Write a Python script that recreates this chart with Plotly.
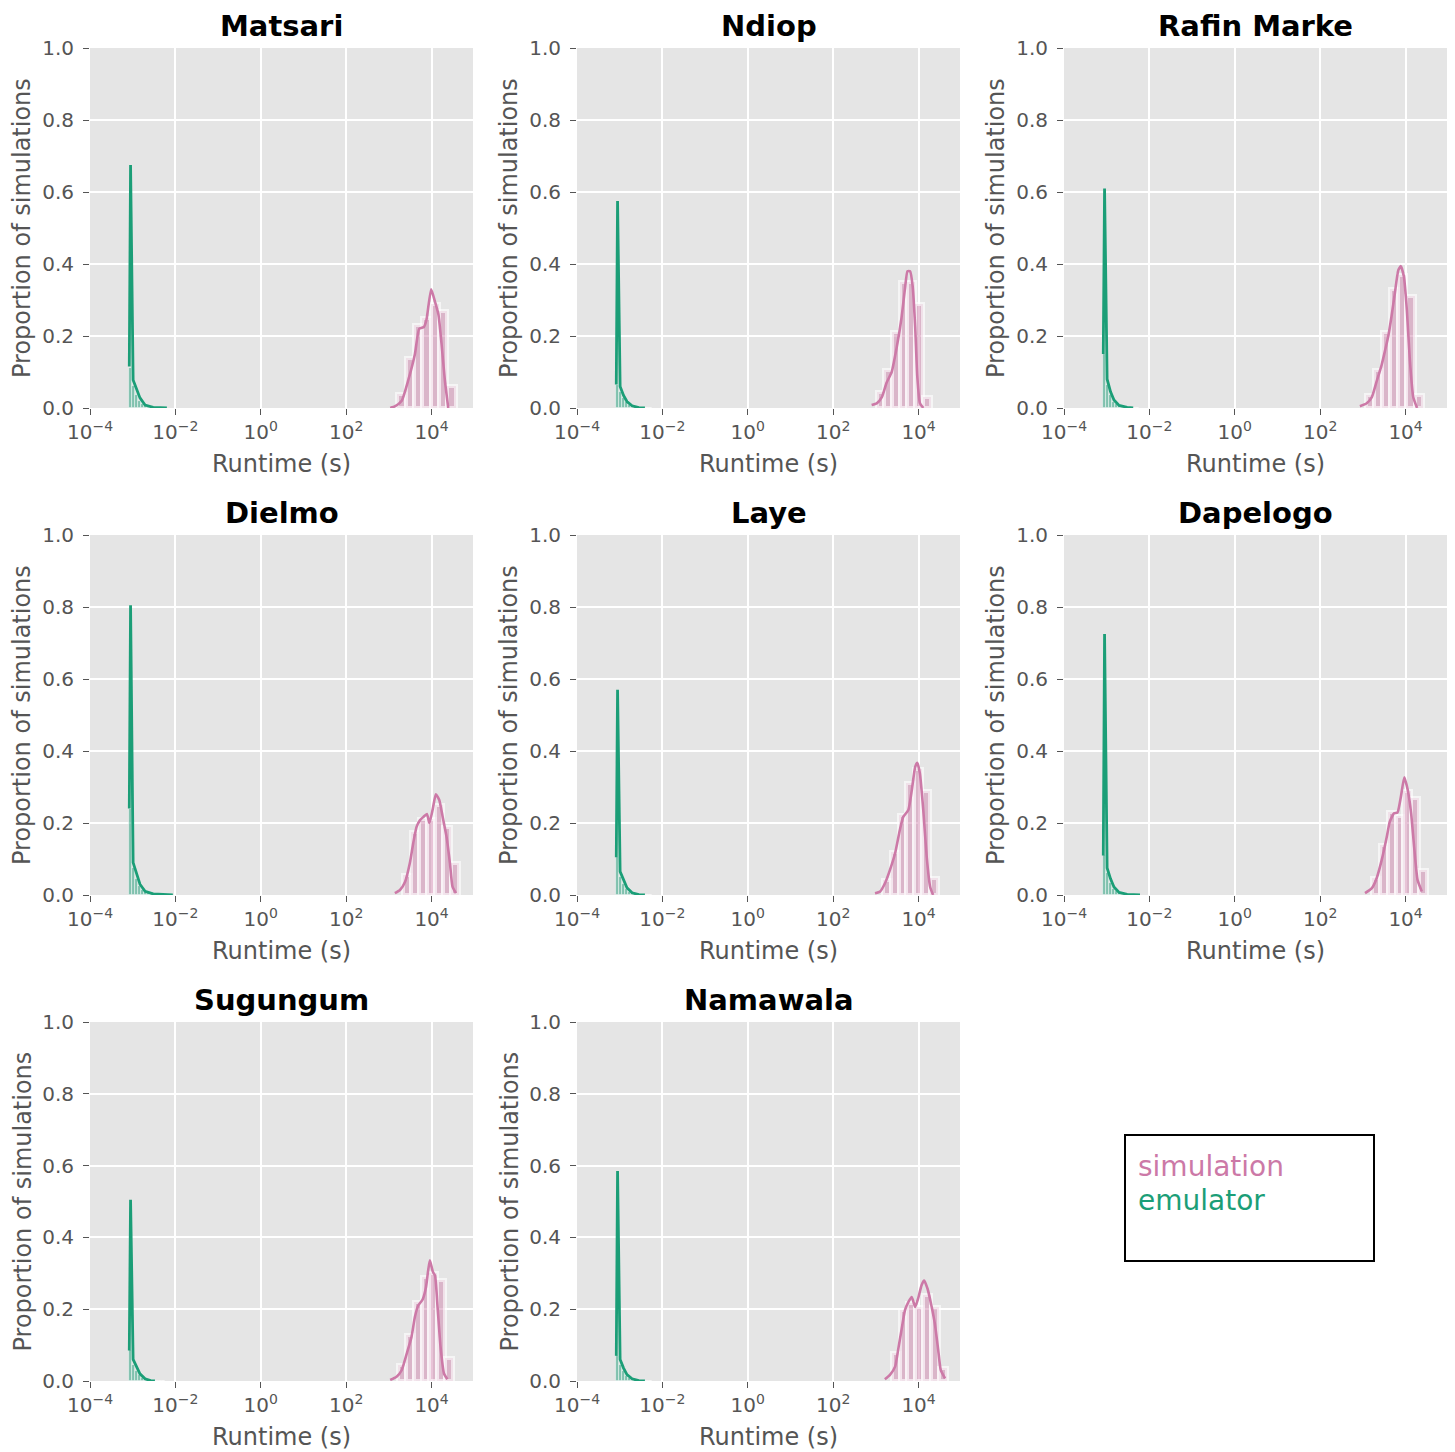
import plotly.graph_objects as go

# ---------------- data (x values are log10 of runtime in seconds) ----------------
sites = ["Matsari", "Ndiop", "Rafin Marke", "Dielmo", "Laye", "Dapelogo", "Sugungum", "Namawala"]

x_tick_vals = [-4, -2, 0, 2, 4]
x_tick_text = ["10<sup>−4</sup>", "10<sup>−2</sup>", "10<sup>0</sup>", "10<sup>2</sup>", "10<sup>4</sup>"]
y_tick_vals = [0.0, 0.2, 0.4, 0.6, 0.8, 1.0]
y_tick_text = ["0.0", "0.2", "0.4", "0.6", "0.8", "1.0"]

# simulation KDE curves
matsari_sim_kde_x = [3.03, 3.15, 3.30, 3.46, 3.61, 3.71, 3.82, 3.88, 3.99, 4.08, 4.16, 4.24, 4.31, 4.39]
matsari_sim_kde_y = [0.0, 0.005, 0.02, 0.08, 0.15, 0.22, 0.225, 0.245, 0.33, 0.295, 0.26, 0.17, 0.078, 0.0]
ndiop_sim_kde_x = [2.90, 3.02, 3.14, 3.25, 3.37, 3.49, 3.60, 3.68, 3.74, 3.80, 3.86, 3.92, 3.97, 4.03, 4.11]
ndiop_sim_kde_y = [0.008, 0.013, 0.03, 0.07, 0.10, 0.17, 0.25, 0.33, 0.38, 0.38, 0.34, 0.226, 0.087, 0.014, 0.0]
rafin_sim_kde_x = [2.93, 3.09, 3.21, 3.32, 3.44, 3.52, 3.60, 3.67, 3.75, 3.83, 3.89, 3.96, 4.03, 4.10, 4.18, 4.27]
rafin_sim_kde_y = [0.005, 0.013, 0.03, 0.073, 0.12, 0.16, 0.203, 0.254, 0.32, 0.383, 0.394, 0.365, 0.272, 0.133, 0.03, 0.0]
dielmo_sim_kde_x = [3.14, 3.26, 3.38, 3.49, 3.57, 3.65, 3.73, 3.81, 3.89, 3.95, 4.03, 4.10, 4.18, 4.26, 4.35, 4.43, 4.49, 4.57]
dielmo_sim_kde_y = [0.005, 0.014, 0.037, 0.088, 0.144, 0.19, 0.208, 0.217, 0.225, 0.20, 0.24, 0.28, 0.264, 0.217, 0.162, 0.088, 0.023, 0.005]
laye_sim_kde_x = [2.98, 3.10, 3.21, 3.33, 3.45, 3.56, 3.64, 3.76, 3.84, 3.92, 3.97, 4.03, 4.11, 4.19, 4.27, 4.34]
laye_sim_kde_y = [0.005, 0.01, 0.032, 0.07, 0.116, 0.18, 0.217, 0.236, 0.29, 0.356, 0.367, 0.338, 0.236, 0.106, 0.023, 0.0]
dapelogo_sim_kde_x = [3.05, 3.21, 3.32, 3.44, 3.56, 3.63, 3.73, 3.81, 3.89, 3.97, 4.05, 4.13, 4.20, 4.28, 4.38]
dapelogo_sim_kde_y = [0.005, 0.019, 0.046, 0.097, 0.162, 0.204, 0.227, 0.229, 0.273, 0.327, 0.292, 0.227, 0.134, 0.042, 0.01]
sugungum_sim_kde_x = [3.03, 3.18, 3.30, 3.42, 3.53, 3.61, 3.69, 3.79, 3.87, 3.92, 3.96, 4.03, 4.08, 4.14, 4.21, 4.29, 4.37]
sugungum_sim_kde_y = [0.003, 0.012, 0.03, 0.077, 0.123, 0.179, 0.211, 0.227, 0.262, 0.308, 0.336, 0.304, 0.294, 0.206, 0.095, 0.021, 0.005]
namawala_sim_kde_x = [3.21, 3.33, 3.45, 3.52, 3.60, 3.68, 3.76, 3.84, 3.92, 3.99, 4.07, 4.13, 4.21, 4.29, 4.38, 4.46, 4.52, 4.62]
namawala_sim_kde_y = [0.005, 0.017, 0.04, 0.086, 0.142, 0.197, 0.22, 0.234, 0.206, 0.23, 0.267, 0.28, 0.257, 0.216, 0.16, 0.086, 0.03, 0.007]

# simulation histogram bin edges and heights
matsari_sim_edges = [3.20, 3.395, 3.59, 3.785, 3.98, 4.175, 4.37, 4.565]
matsari_sim_hist = [0.04, 0.14, 0.23, 0.25, 0.29, 0.27, 0.06]
ndiop_sim_edges = [3.02, 3.20, 3.38, 3.56, 3.74, 3.92, 4.10, 4.28]
ndiop_sim_hist = [0.045, 0.105, 0.21, 0.35, 0.35, 0.29, 0.03]
rafin_sim_edges = [3.07, 3.26, 3.45, 3.64, 3.83, 4.02, 4.21, 4.40]
rafin_sim_hist = [0.036, 0.105, 0.21, 0.33, 0.37, 0.31, 0.036]
dielmo_sim_edges = [3.32, 3.51, 3.70, 3.89, 4.08, 4.27, 4.46, 4.65]
dielmo_sim_hist = [0.055, 0.176, 0.21, 0.21, 0.25, 0.19, 0.09]
laye_sim_edges = [3.16, 3.345, 3.53, 3.715, 3.90, 4.085, 4.27, 4.455]
laye_sim_hist = [0.042, 0.12, 0.222, 0.31, 0.35, 0.29, 0.047]
dapelogo_sim_edges = [3.21, 3.395, 3.58, 3.765, 3.95, 4.135, 4.32, 4.505]
dapelogo_sim_hist = [0.047, 0.14, 0.23, 0.22, 0.29, 0.27, 0.07]
sugungum_sim_edges = [3.21, 3.395, 3.58, 3.765, 3.95, 4.135, 4.32, 4.505]
sugungum_sim_hist = [0.044, 0.128, 0.22, 0.29, 0.30, 0.28, 0.064]
namawala_sim_edges = [3.37, 3.555, 3.74, 3.925, 4.11, 4.295, 4.48, 4.665]
namawala_sim_hist = [0.078, 0.197, 0.216, 0.206, 0.24, 0.206, 0.036]

# emulator KDE curves
matsari_emu_kde_x = [-3.08, -3.05, -2.99, -2.91, -2.83, -2.71, -2.52, -2.20]
matsari_emu_kde_y = [0.115, 0.675, 0.078, 0.055, 0.028, 0.008, 0.002, 0.0]
ndiop_emu_kde_x = [-3.08, -3.05, -2.99, -2.91, -2.83, -2.71, -2.55, -2.41]
ndiop_emu_kde_y = [0.065, 0.575, 0.06, 0.035, 0.018, 0.006, 0.001, 0.0]
rafin_emu_kde_x = [-3.08, -3.05, -2.99, -2.91, -2.83, -2.71, -2.52, -2.38]
rafin_emu_kde_y = [0.15, 0.61, 0.08, 0.045, 0.022, 0.007, 0.002, 0.0]
dielmo_emu_kde_x = [-3.08, -3.05, -2.99, -2.91, -2.83, -2.71, -2.52, -2.06]
dielmo_emu_kde_y = [0.24, 0.805, 0.09, 0.06, 0.03, 0.01, 0.003, 0.0]
laye_emu_kde_x = [-3.08, -3.05, -2.99, -2.91, -2.83, -2.71, -2.55, -2.41]
laye_emu_kde_y = [0.105, 0.57, 0.065, 0.04, 0.02, 0.006, 0.001, 0.0]
dapelogo_emu_kde_x = [-3.08, -3.05, -2.99, -2.91, -2.83, -2.71, -2.52, -2.22]
dapelogo_emu_kde_y = [0.11, 0.725, 0.075, 0.045, 0.022, 0.007, 0.002, 0.0]
sugungum_emu_kde_x = [-3.08, -3.05, -2.99, -2.91, -2.83, -2.71, -2.58, -2.48]
sugungum_emu_kde_y = [0.085, 0.505, 0.06, 0.038, 0.02, 0.006, 0.001, 0.0]
namawala_emu_kde_x = [-3.08, -3.05, -2.99, -2.91, -2.83, -2.71, -2.55, -2.41]
namawala_emu_kde_y = [0.07, 0.585, 0.06, 0.036, 0.018, 0.006, 0.001, 0.0]

# emulator histogram (shared bin edges)
emu_edges = [-3.09, -3.02, -2.95, -2.88, -2.81, -2.74, -2.67, -2.60, -2.53, -2.46, -2.39, -2.32, -2.25]
matsari_emu_hist = [0.11, 0.06, 0.035, 0.02, 0.012, 0.007, 0.005, 0.003, 0.002, 0.0015, 0.001, 0.001]
ndiop_emu_hist = [0.065, 0.045, 0.028, 0.016, 0.009, 0.005, 0.003, 0.002, 0.001, 0.001, 0.0, 0.0]
rafin_emu_hist = [0.15, 0.065, 0.035, 0.018, 0.01, 0.006, 0.003, 0.002, 0.001, 0.001, 0.0, 0.0]
dielmo_emu_hist = [0.24, 0.075, 0.045, 0.025, 0.014, 0.008, 0.005, 0.003, 0.002, 0.0015, 0.001, 0.001]
laye_emu_hist = [0.105, 0.05, 0.03, 0.017, 0.009, 0.005, 0.003, 0.002, 0.001, 0.001, 0.0, 0.0]
dapelogo_emu_hist = [0.11, 0.06, 0.033, 0.018, 0.01, 0.006, 0.004, 0.002, 0.0015, 0.001, 0.001, 0.0]
sugungum_emu_hist = [0.085, 0.045, 0.028, 0.016, 0.009, 0.005, 0.003, 0.002, 0.001, 0.0, 0.0, 0.0]
namawala_emu_hist = [0.07, 0.045, 0.027, 0.015, 0.008, 0.005, 0.003, 0.002, 0.001, 0.001, 0.0, 0.0]

site_data = [
    (matsari_sim_kde_x, matsari_sim_kde_y, matsari_sim_edges, matsari_sim_hist,
     matsari_emu_kde_x, matsari_emu_kde_y, matsari_emu_hist),
    (ndiop_sim_kde_x, ndiop_sim_kde_y, ndiop_sim_edges, ndiop_sim_hist,
     ndiop_emu_kde_x, ndiop_emu_kde_y, ndiop_emu_hist),
    (rafin_sim_kde_x, rafin_sim_kde_y, rafin_sim_edges, rafin_sim_hist,
     rafin_emu_kde_x, rafin_emu_kde_y, rafin_emu_hist),
    (dielmo_sim_kde_x, dielmo_sim_kde_y, dielmo_sim_edges, dielmo_sim_hist,
     dielmo_emu_kde_x, dielmo_emu_kde_y, dielmo_emu_hist),
    (laye_sim_kde_x, laye_sim_kde_y, laye_sim_edges, laye_sim_hist,
     laye_emu_kde_x, laye_emu_kde_y, laye_emu_hist),
    (dapelogo_sim_kde_x, dapelogo_sim_kde_y, dapelogo_sim_edges, dapelogo_sim_hist,
     dapelogo_emu_kde_x, dapelogo_emu_kde_y, dapelogo_emu_hist),
    (sugungum_sim_kde_x, sugungum_sim_kde_y, sugungum_sim_edges, sugungum_sim_hist,
     sugungum_emu_kde_x, sugungum_emu_kde_y, sugungum_emu_hist),
    (namawala_sim_kde_x, namawala_sim_kde_y, namawala_sim_edges, namawala_sim_hist,
     namawala_emu_kde_x, namawala_emu_kde_y, namawala_emu_hist),
]

# ---------------- styling / layout ----------------
PAGE_OFFSET = 8                      # default body margin of the html page
W, H = 1455 - PAGE_OFFSET, 1452 - PAGE_OFFSET
SIM_COLOR = "#CC79A7"
EMU_COLOR = "#1B9E77"
SIM_FILL = "rgba(204,121,167,0.45)"
EMU_FILL = "rgba(27,158,119,0.5)"
EDGE = "rgba(255,255,255,0.6)"
FONT = "DejaVu Sans"
GRAY = "#555555"

# pixel positions measured in the reference screenshot
col_px = [(90, 473), (577, 960), (1064, 1447)]
row_px = [(48, 408), (535, 895), (1022, 1381)]


def px_x(p):
    return (p - PAGE_OFFSET) / W


def px_y(p):
    return 1 - (p - PAGE_OFFSET) / H


def centers_widths(edges):
    c = [(edges[i] + edges[i + 1]) / 2 for i in range(len(edges) - 1)]
    w = [edges[i + 1] - edges[i] for i in range(len(edges) - 1)]
    return c, w


fig = go.Figure()
annotations = []
layout_axes = {}

for i, name in enumerate(sites):
    r, c = divmod(i, 3)
    n = i + 1
    xa = "x" if n == 1 else f"x{n}"
    ya = "y" if n == 1 else f"y{n}"
    sx, sy, sedges, shist, ex, ey, ehist = site_data[i]

    sc, sw = centers_widths(sedges)
    ec, ew = centers_widths(emu_edges)

    fig.add_trace(go.Bar(x=sc, y=shist, width=sw, xaxis=xa, yaxis=ya,
                         marker=dict(color=SIM_FILL, line=dict(color=EDGE, width=4)),
                         showlegend=False, hoverinfo="skip"))
    fig.add_trace(go.Bar(x=ec, y=ehist, width=ew, xaxis=xa, yaxis=ya,
                         marker=dict(color=EMU_FILL, line=dict(color=EDGE, width=0.8)),
                         showlegend=False, hoverinfo="skip"))
    fig.add_trace(go.Scatter(x=sx, y=sy, mode="lines", xaxis=xa, yaxis=ya,
                             line=dict(color=SIM_COLOR, width=2.6, shape="spline", smoothing=0.5),
                             showlegend=False, hoverinfo="skip"))
    fig.add_trace(go.Scatter(x=ex, y=ey, mode="lines", xaxis=xa, yaxis=ya,
                             line=dict(color=EMU_COLOR, width=2.8),
                             showlegend=False, hoverinfo="skip"))

    x0, x1 = col_px[c]
    y0, y1 = row_px[r]
    xkey = "xaxis" if n == 1 else f"xaxis{n}"
    ykey = "yaxis" if n == 1 else f"yaxis{n}"
    layout_axes[xkey] = dict(
        domain=[px_x(x0), px_x(x1)], anchor=ya, range=[-4, 4.97], automargin=False,
        tickmode="array", tickvals=x_tick_vals, ticktext=x_tick_text,
        ticks="outside", ticklen=6, tickwidth=1.3, tickcolor=GRAY,
        tickfont=dict(family=FONT, size=20, color=GRAY),
        showgrid=True, gridcolor="white", gridwidth=1.6,
        zeroline=False, showline=False, fixedrange=True)
    layout_axes[ykey] = dict(
        domain=[px_y(y1), px_y(y0)], anchor=xa, range=[0, 1], automargin=False,
        tickmode="array", tickvals=y_tick_vals, ticktext=y_tick_text,
        ticks="outside", ticklen=6, tickwidth=1.3, tickcolor=GRAY,
        ticklabelstandoff=5,
        tickfont=dict(family=FONT, size=20, color=GRAY),
        showgrid=True, gridcolor="white", gridwidth=1.6,
        zeroline=False, showline=False, fixedrange=True)

    xc = (x0 + x1) / 2
    yc = (y0 + y1) / 2
    annotations.append(dict(text=f"<b>{name}</b>", x=px_x(xc), y=px_y(y0 - 22),
                            xref="paper", yref="paper", xanchor="center", yanchor="middle",
                            showarrow=False, font=dict(family=FONT, size=29, color="black")))
    annotations.append(dict(text="Runtime (s)", x=px_x(xc), y=px_y(y1 + 56),
                            xref="paper", yref="paper", xanchor="center", yanchor="middle",
                            showarrow=False, font=dict(family=FONT, size=24, color=GRAY)))
    annotations.append(dict(text="Proportion of simulations", x=px_x(x0 - 68), y=px_y(yc),
                            xref="paper", yref="paper", xanchor="center", yanchor="middle",
                            textangle=-90, showarrow=False,
                            font=dict(family=FONT, size=24, color=GRAY)))

# legend box
annotations.append(dict(text="simulation", x=px_x(1136), y=px_y(1166), xref="paper", yref="paper",
                        xanchor="left", yanchor="middle", showarrow=False,
                        font=dict(family=FONT, size=28, color=SIM_COLOR)))
annotations.append(dict(text="emulator", x=px_x(1136), y=px_y(1200), xref="paper", yref="paper",
                        xanchor="left", yanchor="middle", showarrow=False,
                        font=dict(family=FONT, size=28, color=EMU_COLOR)))

fig.update_layout(
    width=W, height=H, autosize=False,
    margin=dict(l=0, r=0, t=0, b=0, autoexpand=False),
    paper_bgcolor="white", plot_bgcolor="#E5E5E5",
    barmode="overlay", bargap=0,
    showlegend=False,
    annotations=annotations,
    shapes=[dict(type="rect", xref="paper", yref="paper",
                 x0=px_x(1125), x1=px_x(1374), y0=px_y(1261), y1=px_y(1135),
                 line=dict(color="black", width=2), fillcolor="white", layer="above")],
    **layout_axes,
)

fig.write_html("out.html")
